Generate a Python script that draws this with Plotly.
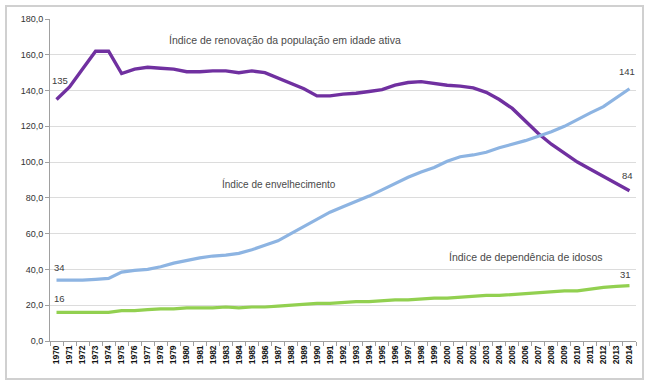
import plotly.graph_objects as go

years = [str(y) for y in range(1970, 2015)]

renovacao = [135, 142, 152, 162, 162, 149.5, 152, 153, 152.5, 152, 150.5, 150.5, 151, 151, 150, 151, 150,
             147, 144, 141, 137, 137, 138, 138.5, 139.5, 140.5, 143, 144.5, 145, 144, 143,
             142.5, 141.5, 139, 135, 130, 123, 116, 110, 105, 100, 96, 92, 88, 84]

envelhecimento = [34, 34, 34, 34.5, 35, 38.5, 39.5, 40, 41.5, 43.5, 45, 46.5, 47.5, 48, 49, 51, 53.5,
                  56, 60, 64, 68.5, 72, 75, 78, 81, 84.5, 88, 91.5, 94.5, 97, 100.5,
                  103, 104, 105.5, 108, 110, 112, 114.5, 117, 120, 124, 127.5, 131, 136, 141]

dependencia = [16, 16, 16, 16, 16, 17, 17, 17.5, 18, 18, 18.5, 18.5, 18.5, 19, 18.5, 19, 19,
               19.5, 20, 20.5, 21, 21, 21.5, 22, 22, 22.5, 23, 23, 23.5, 24, 24,
               24.5, 25, 25.5, 25.5, 26, 26.5, 27, 27.5, 28, 28, 29, 30, 30.5, 31]

y_ticks = [0, 20, 40, 60, 80, 100, 120, 140, 160, 180]
y_tick_text = ["0,0", "20,0", "40,0", "60,0", "80,0", "100,0", "120,0", "140,0", "160,0", "180,0"]

names = ["Índice de renovação da população em idade ativa",
         "Índice de envelhecimento",
         "Índice de dependência de idosos"]

FONT = "Liberation Sans"

fig = go.Figure()
fig.add_trace(go.Scatter(x=years, y=renovacao, mode="lines", name=names[0],
                         line=dict(color="#7030A0", width=3.4)))
fig.add_trace(go.Scatter(x=years, y=envelhecimento, mode="lines", name=names[1],
                         line=dict(color="#8DB4E2", width=3.2)))
fig.add_trace(go.Scatter(x=years, y=dependencia, mode="lines", name=names[2],
                         line=dict(color="#92D050", width=3.2)))

annots = []
def lab(i, y, text, yshift, xshift=0):
    annots.append(dict(x=i, y=y, xref="x", yref="y", text=text, showarrow=False,
                       yshift=yshift, xshift=xshift,
                       font=dict(family=FONT, size=9.5, color="#404040")))

n = len(years) - 1
lab(0, renovacao[0], "135", 19, 3)
lab(0, envelhecimento[0], "34", 13, 3)
lab(0, dependencia[0], "16", 14, 3)
lab(n, envelhecimento[-1], "141", 17, -2)
lab(n, renovacao[-1], "84", 15, -2)
lab(n, dependencia[-1], "31", 11, -4)

def title(x, y, text, size):
    annots.append(dict(x=x, y=y, xref="paper", yref="paper", text=text, showarrow=False,
                       xanchor="left", yanchor="middle",
                       font=dict(family=FONT, size=size, color="#4a4a4a")))

title((167 - 50) / 586, (341 - 40) / 322, names[0], 10.5)
title((220 - 50) / 586, (341 - 184) / 322, names[1], 10)
title((447 - 50) / 586, (341 - 257) / 322, names[2], 10.5)

fig.update_layout(
    width=650, height=382,
    margin=dict(l=50, r=14, t=19, b=41),
    paper_bgcolor="white", plot_bgcolor="white",
    showlegend=False,
    annotations=annots,
    shapes=[dict(type="rect", xref="paper", yref="paper",
                 x0=(6 - 50) / 586, x1=(643 - 50) / 586,
                 y0=(341 - 379) / 322, y1=(341 - 6) / 322,
                 line=dict(color="#D0D0D0", width=2), fillcolor="rgba(0,0,0,0)",
                 layer="below")],
    font=dict(family=FONT, size=9, color="#333333"),
)

fig.update_xaxes(type="category", categoryorder="array", categoryarray=years,
                 tickson="boundaries", ticks="outside", ticklen=4, tickcolor="#A0A0A0",
                 showgrid=False, showline=True, linecolor="#A0A0A0", linewidth=1,
                 tickangle=-90, tickfont=dict(family="Liberation Sans Narrow, " + FONT, size=8.5, color="#111111", weight="bold"),
                 range=[-0.5, len(years) - 0.5])

fig.update_yaxes(range=[0, 180], tickvals=y_ticks, ticktext=y_tick_text,
                 ticks="outside", ticklen=4, tickcolor="#A0A0A0",
                 showgrid=True, gridcolor="#DCDCDC", gridwidth=1,
                 showline=True, linecolor="#A0A0A0", linewidth=1,
                 zeroline=False, tickfont=dict(family=FONT, size=9, color="#333333"))

fig.write_html("out.html")
